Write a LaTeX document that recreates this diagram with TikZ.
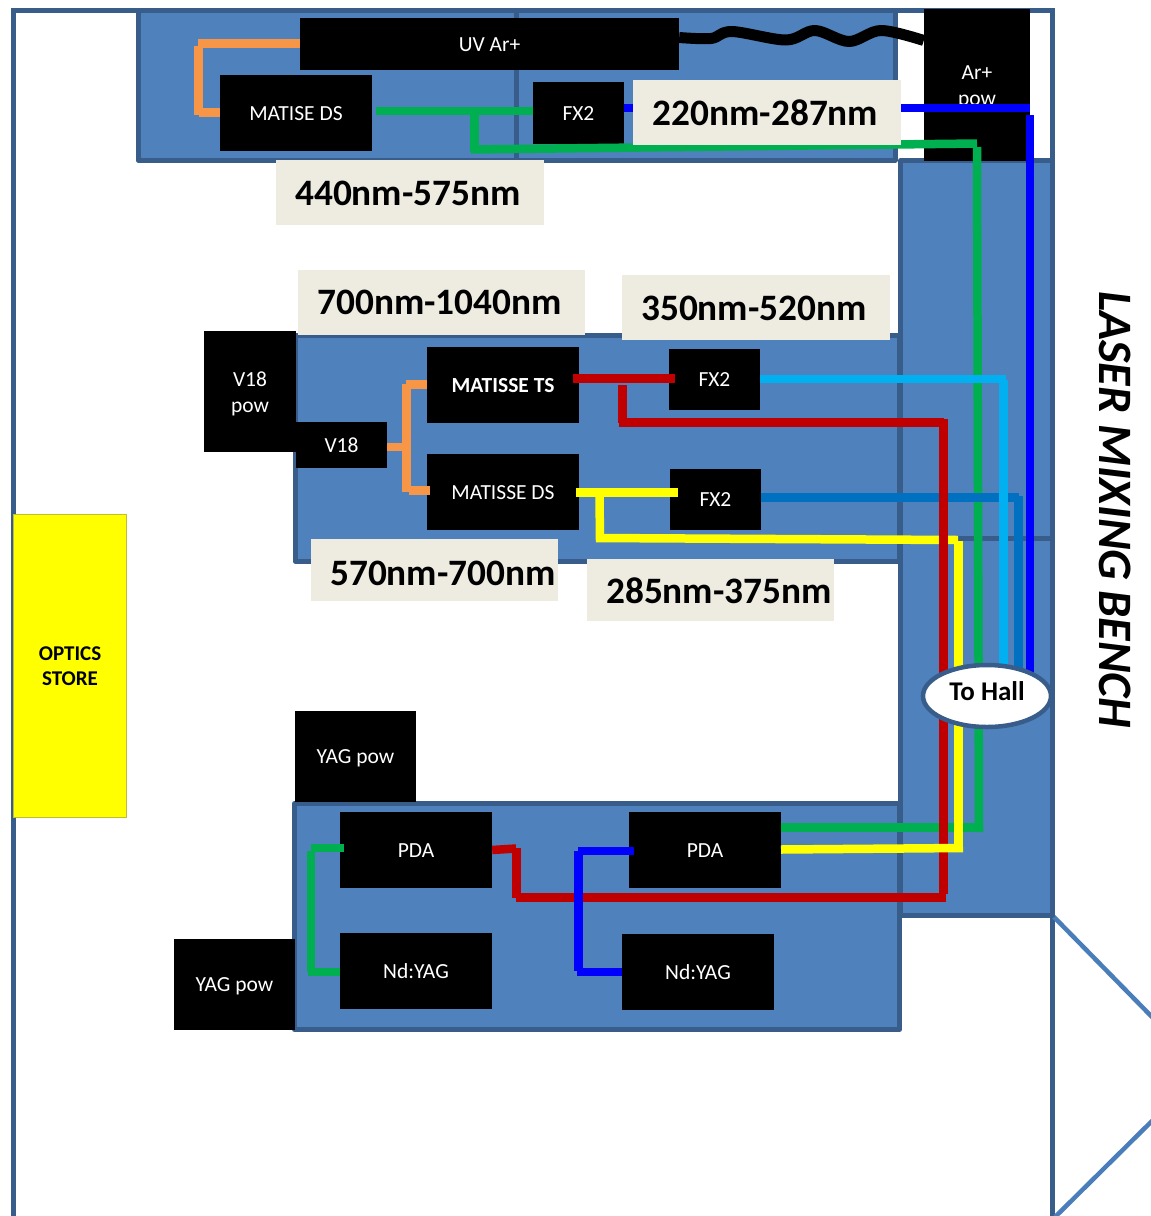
\documentclass[tikz,border=0pt]{standalone}
\usepackage{fontspec}
\setmainfont{Carlito}
\usetikzlibrary{shapes.geometric}
\definecolor{panelfill}{HTML}{4F81BD}
\definecolor{panelline}{HTML}{385D8A}
\definecolor{diagline}{HTML}{4A7EBB}
\definecolor{labelfill}{HTML}{EEECE1}
\definecolor{worange}{HTML}{F79646}
\definecolor{wgreen}{HTML}{00B050}
\definecolor{wblue}{HTML}{0000FF}
\definecolor{wred}{HTML}{C00000}
\definecolor{wyellow}{HTML}{FFFF00}
\definecolor{wlight}{HTML}{00B0F0}
\definecolor{wmid}{HTML}{0070C0}
\definecolor{storeline}{HTML}{BEBE32}
\tikzset{
  panel/.style={draw=panelline,fill=panelfill,line width=5pt,line join=round},
  room/.style={draw=panelline,line width=5pt},
  diag/.style={draw=diagline,line width=4.5pt},
  blkbase/.style={fill=black,text=white,inner sep=0pt,align=center,font=\fontsize{21.5}{26}\selectfont},
  blk/.style={blkbase,text height=14.5pt,text depth=0pt},
  band/.style={fill=labelfill,text=black,inner sep=0pt,text depth=0pt,font=\bfseries\fontsize{37.3}{40}\selectfont},
  wire/.style={line width=8.5pt},
}
\begin{document}
\begin{tikzpicture}[x=1pt,y=-1pt]
\useasboundingbox (0,0) rectangle (1151,1216);
\clip (0,0) rectangle (1151,1216);
\fill[white] (0,0) rectangle (1151,1216);
% room
\coordinate (rbl) at (13,1218);
\coordinate (rtl) at (13,10);
\coordinate (rtr) at (1052.5,10);
\coordinate (rbr) at (1052.5,1218);
\draw[room] (rbl) -- (rtl) -- (rtr) -- (rbr);
% hexagon hint
\coordinate (d1) at (1053,916);
\coordinate (d2) at (1155,1020);
\coordinate (d3) at (1055,1217);
\coordinate (d4) at (1155,1118);
\draw[diag] (d1) -- (d2);
\draw[diag] (d3) -- (d4);
% panels
\draw[panel] (138,10) rectangle (895,160);
\coordinate (p1a) at (516.5,10);
\coordinate (p1b) at (516.5,160);
\draw[room] (p1a) -- (p1b);
\draw[panel] (295,335) rectangle (899,561);
\draw[panel] (900.5,160.5) rectangle (1052.5,915.5);
\coordinate (b1a) at (900.5,538);
\coordinate (b1b) at (1052.5,538);
\draw[room] (b1a) -- (b1b);
\draw[panel] (294.5,803.5) rectangle (899.5,1029.5);
% yellow store
\node[fill=wyellow,draw=storeline,line width=1pt,minimum width=113pt,minimum height=303pt,inner sep=0pt,align=center,font=\bfseries\fontsize{21}{25}\selectfont] (store) at (70,665.5) {\rule{0pt}{15.5pt}OPTICS\\STORE};
% black boxes
\node[blkbase,minimum width=106pt,minimum height=152pt] (arpow) at (977,85) {\rule{0pt}{18.5pt}Ar+\\pow};
\node[blk,minimum width=379pt,minimum height=52pt] (uv) at (489.5,44) {UV Ar+};
\node[blk,minimum width=152pt,minimum height=76pt] (mds1) at (296,113) {MATISE DS};
\node[blk,minimum width=91pt,minimum height=62pt] (fxa) at (578.5,113) {FX2};
\node[blkbase,minimum width=92pt,minimum height=121pt] (vpow) at (250,391.5) {\rule{0pt}{19.5pt}V18\\pow};
\node[blk,minimum width=91pt,minimum height=46pt] (v18) at (341.5,445) {V18};
\node[blk,minimum width=152pt,minimum height=76pt,font=\bfseries\fontsize{21.5}{26}\selectfont] (mts) at (503,385) {MATISSE TS};
\node[blk,minimum width=152pt,minimum height=76pt] (mds2) at (503,492) {MATISSE DS};
\node[blk,minimum width=91pt,minimum height=61pt] (fxb) at (714.5,379.5) {FX2};
\node[blk,minimum width=91pt,minimum height=61pt] (fxc) at (715.5,499.5) {FX2};
\node[blk,minimum width=121pt,minimum height=91pt] (ypa) at (355.5,756.5) {YAG pow};
\node[blk,minimum width=121pt,minimum height=91pt] (ypb) at (234.5,984.5) {YAG pow};
\node[blk,minimum width=152pt,minimum height=76pt] (pda1) at (416,850) {PDA};
\node[blk,minimum width=152pt,minimum height=76pt] (yag1) at (416,971) {Nd:YAG};
\node[blk,minimum width=152pt,minimum height=76pt] (pda2) at (705,850) {PDA};
\node[blk,minimum width=152pt,minimum height=76pt] (yag2) at (698,972) {Nd:YAG};
% way points
\coordinate (oa) at (198,43.5); \coordinate (ob) at (198.5,46); \coordinate (oc) at (198.5,115);
\coordinate (od) at (199,112.5);
\coordinate (ma) at (406,384.5); \coordinate (mb) at (406.5,384); \coordinate (mc) at (406.5,492);
\coordinate (md) at (409,490.5); \coordinate (me) at (406,447); \coordinate (mf) at (430,490.5);
\coordinate (ga) at (376,111); \coordinate (gb) at (474.5,111); \coordinate (gc) at (474.5,152);
\coordinate (gd) at (471,149.5); \coordinate (ge) at (977,143.5); \coordinate (gf) at (977,147);
\coordinate (gg) at (979,832); \coordinate (gh) at (979,827.5);
\coordinate (ba) at (1030,108); \coordinate (bb) at (1030,115); \coordinate (bc) at (1030,680);
\coordinate (ra) at (573,378.5); \coordinate (rb) at (622.5,385); \coordinate (rc) at (622.5,423);
\coordinate (rd) at (619,422.5); \coordinate (re) at (944,422.5); \coordinate (rf) at (943.5,419);
\coordinate (rg) at (943.5,894); \coordinate (rh) at (946,897.5); \coordinate (ri) at (516,897.5);
\coordinate (rj) at (516.5,898); \coordinate (rk) at (516.5,848); \coordinate (rl) at (516,848.5);
\coordinate (ya) at (576,492.5); \coordinate (yb) at (599.5,497); \coordinate (yc) at (600,540);
\coordinate (yd) at (596,538); \coordinate (ye) at (958,540); \coordinate (yf) at (958.5,541);
\coordinate (yg) at (958.5,852); \coordinate (yh) at (963,848); \coordinate (yi) at (781,849.5);
\coordinate (la) at (1006,379); \coordinate (lb) at (1003.5,380); \coordinate (lc) at (1003.5,680);
\coordinate (ka) at (1019,497.5); \coordinate (kb) at (1018.5,496); \coordinate (kc) at (1018.5,680);
\coordinate (ua) at (578,851); \coordinate (ub) at (578.5,851); \coordinate (uc) at (578.5,971);
\coordinate (ud) at (577,972); \coordinate (ue) at (634,851);
\coordinate (ha) at (311,848); \coordinate (hb) at (311,851); \coordinate (hc) at (311,972);
\coordinate (hd) at (308,972); \coordinate (he) at (344,848);
\coordinate (sa) at (624,108);
\coordinate (za) at (675,378.5); \coordinate (zb) at (678,492.5);
% wires
\draw[wire,worange] (uv.west |- oa) -- (oa);
\draw[wire,worange] (ob) -- (oc);
\draw[wire,worange] (od) -- (mds1.west |- od);
\draw[wire,worange] (ma) -- (mts.west |- ma);
\draw[wire,worange] (mb) -- (mc);
\draw[wire,worange] (md) -- (mf);
\draw[wire,worange] (v18.east |- me) -- (me);
\draw[wire,wgreen] (ga) -- (fxa.west |- ga);
\draw[wire,wgreen] (gb) -- (gc);
\draw[wire,wgreen] (gd) -- (ge);
\draw[wire,wgreen] (gf) -- (gg);
\draw[wire,wgreen] (pda2.east |- gh) -- (gh);
\draw[wire,wblue] (fxa.east |- sa) -- (ba);
\draw[wire,wblue] (bb) -- (bc);
\draw[wire,wmid] (fxc.east |- ka) -- (ka);
\draw[wire,wmid] (kb) -- (kc);
\draw[wire,wyellow] (ya) -- (zb);
\draw[wire,wyellow] (yb) -- (yc);
\draw[wire,wyellow] (yd) -- (ye);
\draw[wire,wlight] (fxb.east |- la) -- (la);
\draw[wire,wlight] (lb) -- (lc);
\draw[wire,wred] (ra) -- (za);
\draw[wire,wred] (rb) -- (rc);
\draw[wire,wred] (rd) -- (re);
\draw[wire,wred] (rf) -- (rg);
\draw[wire,wred] (rh) -- (ri);
\draw[wire,wred] (rj) -- (rk);
\draw[wire,wred] (pda1.east |- pda1.center) -- (rl);
\draw[wire,wyellow] (yf) -- (yg);
\draw[wire,wyellow] (yi) -- (yh);
\draw[wire,wblue] (ue) -- (ua);
\draw[wire,wblue] (ub) -- (uc);
\draw[wire,wblue] (ud) -- (yag2.west |- ud);
\draw[wire,wgreen] (he) -- (ha);
\draw[wire,wgreen] (hb) -- (hc);
\draw[wire,wgreen] (hd) -- (yag1.west |- hd);
% black cable
\coordinate (ca) at (uv.east |- 0,37.5);
\coordinate (cb) at (arpow.west |- 0,40.5);
\draw[line width=11pt,black,line join=round] plot[smooth,tension=.55] coordinates {(ca) (711,38.5) (732,31.5) (786,40) (815,30.5) (849,41.5) (881,30.5) (cb)};
% wavelength labels
\node[band,text height=26pt,minimum width=268pt,minimum height=65pt] (l220) at (767,112.5) {220nm-287nm\hspace*{3pt}};
\node[band,text height=26pt,minimum width=268pt,minimum height=65pt] (l440) at (410,192.5) {440nm-575nm\hspace*{4pt}};
\node[band,text height=24pt,minimum width=287pt,minimum height=65pt] (l700) at (441.5,302.5) {700nm-1040nm\hspace*{4pt}};
\node[band,text height=26pt,minimum width=268pt,minimum height=65pt] (l350) at (756,307.5) {350nm-520nm\hspace*{4pt}};
\node[band,text height=30pt,minimum width=247pt,minimum height=62pt] (l570) at (434.5,570) {\hspace*{17pt}570nm-700nm};
\node[band,text height=26pt,minimum width=247pt,minimum height=62pt] (l285) at (710.5,590) {\hspace*{17pt}285nm-375nm};
% hall
\node[ellipse,draw=panelline,fill=white,line width=4.5pt,minimum width=128pt,minimum height=62pt,inner sep=0pt,font=\bfseries\fontsize{27}{30}\selectfont] (hall) at (987,696) {\raisebox{10pt}{To Hall}};
% bench title
\node[rotate=-90,inner sep=0pt,font=\bfseries\itshape\fontsize{48}{52}\selectfont] (bench) at (1115,509.5) {LASER MIXING BENCH};
\end{tikzpicture}
\end{document}
